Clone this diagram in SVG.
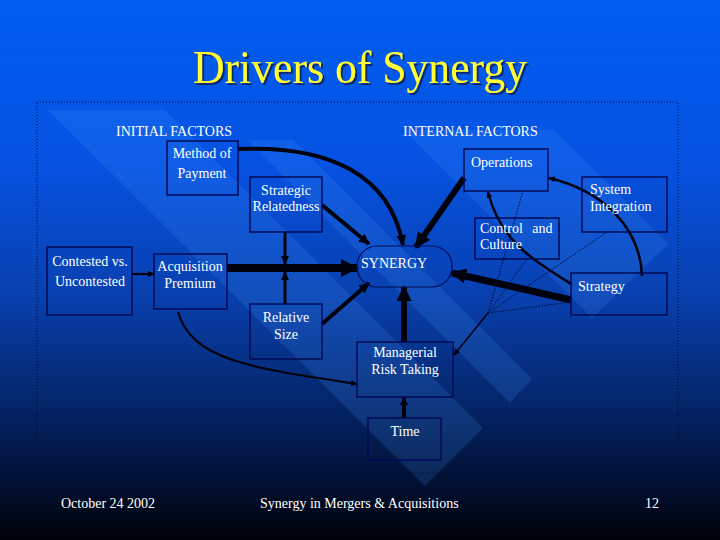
<svg xmlns="http://www.w3.org/2000/svg" width="720" height="540" viewBox="0 0 720 540">
<defs>
<linearGradient id="bg" x1="0" y1="0" x2="0" y2="1">
<stop offset="0" stop-color="#005ef2"/>
<stop offset="0.3" stop-color="#0652e2"/>
<stop offset="0.55" stop-color="#0940ae"/>
<stop offset="0.75" stop-color="#042568"/>
<stop offset="0.9" stop-color="#010f30"/>
<stop offset="1" stop-color="#000207"/>
</linearGradient>
<filter id="shadow" x="-10%" y="-20%" width="120%" height="150%">
<feDropShadow dx="2" dy="2" stdDeviation="0.6" flood-color="#102060" flood-opacity="0.9"/>
</filter>
<marker id="hXL" markerUnits="userSpaceOnUse" markerWidth="18" markerHeight="18" refX="16" refY="9" orient="auto" viewBox="0 0 18 18"><path d="M0,0 L18,9 L0,18 z" fill="#00020e"/></marker>
<marker id="hL" markerUnits="userSpaceOnUse" markerWidth="16" markerHeight="15" refX="14" refY="7.5" orient="auto" viewBox="0 0 16 15"><path d="M0,0 L16,7.5 L0,15 z" fill="#00020e"/></marker>
<marker id="hM" markerUnits="userSpaceOnUse" markerWidth="11" markerHeight="10" refX="10" refY="5" orient="auto" viewBox="0 0 11 10"><path d="M0,0 L11,5 L0,10 z" fill="#00020e"/></marker>
<marker id="hS" markerUnits="userSpaceOnUse" markerWidth="9" markerHeight="8" refX="8" refY="4" orient="auto" viewBox="0 0 9 8"><path d="M0,0 L9,4 L0,8 z" fill="#00020e"/></marker>
<marker id="hXS" markerUnits="userSpaceOnUse" markerWidth="7" markerHeight="6" refX="6" refY="3" orient="auto" viewBox="0 0 7 6"><path d="M0,0 L7,3 L0,6 z" fill="#00020e"/></marker>
</defs>
<style>
.box{fill:none;stroke:#000a55;stroke-width:1.5}
.t{font-family:"Liberation Serif","Times New Roman",serif;font-size:14px;fill:#ffffff}
.c{text-anchor:middle}
.ln{fill:none;stroke:#00020e;stroke-linecap:butt}
.dot{fill:none;stroke:#00062e;stroke-width:1;stroke-dasharray:1.5,1.5}
.band{fill:#4a9aff;opacity:0.17}
</style>
<rect width="720" height="540" fill="url(#bg)"/>
<g id="bands">
<polygon class="band" points="48,110 165,110 483,428 425,486"/>
<polygon class="band" points="247,140 293,140 532,379 510,403"/>
<polygon class="band" points="404,130 554,130 668,244 592,318"/>
</g>
<rect x="37" y="102" width="641" height="371" fill="none" stroke="#00082e" stroke-width="1" stroke-dasharray="1,2"/>
<text x="360" y="83" font-family="Liberation Serif,'Times New Roman',serif" font-size="46" fill="#ffff33" text-anchor="middle" textLength="334" lengthAdjust="spacingAndGlyphs" filter="url(#shadow)">Drivers of Synergy</text>
<text class="t" x="116" y="136">INITIAL FACTORS</text>
<text class="t" x="403" y="136">INTERNAL FACTORS</text>
<g id="connectors">
<path class="ln" d="M238,149 C330,145 390,175 403,245" stroke-width="4" marker-end="url(#hM)"/>
<path class="ln" d="M322,205 L369,244" stroke-width="4" marker-end="url(#hM)"/>
<path class="ln" d="M227,268 L357,268" stroke-width="8" marker-end="url(#hXL)"/>
<path class="ln" d="M285,232 L285,264" stroke-width="3" marker-end="url(#hS)"/>
<path class="ln" d="M285,304 L285,272" stroke-width="3" marker-end="url(#hS)"/>
<path class="ln" d="M322,324 L369,283" stroke-width="4" marker-end="url(#hM)"/>
<path class="ln" d="M464,178 L416,247" stroke-width="6" marker-end="url(#hL)"/>
<path class="ln" d="M571,300 L452,273" stroke-width="7" marker-end="url(#hL)"/>
<path class="ln" d="M404,342 L404,287" stroke-width="6" marker-end="url(#hL)"/>
<path class="ln" d="M404,418 L404,397" stroke-width="4" marker-end="url(#hS)"/>
<path class="ln" d="M178,312 C192,360 250,368 357,384" stroke-width="2.2" marker-end="url(#hXS)"/>
<path class="ln" d="M132,274 L154,274" stroke-width="2.2" marker-end="url(#hXS)"/>
<path class="ln" d="M571,284 C530,258 500,240 488,192" stroke-width="2.5" marker-end="url(#hXS)"/>
<path class="ln" d="M642,276 C640,225 600,190 549,178" stroke-width="2.5" marker-end="url(#hXS)"/>
<path class="dot" d="M488,313 L523,191"/>
<path class="dot" d="M488,313 L527,259"/>
<path class="dot" d="M488,313 L607,232"/>
<path class="dot" d="M488,313 L571,302"/>
<path class="ln" d="M488,313 L454,355" stroke-width="1.5" marker-end="url(#hXS)"/>
</g>
<g id="method"><rect class="box" x="167" y="141" width="71" height="54"/><text class="t c" x="202" y="158">Method of</text><text class="t c" x="202" y="178">Payment</text></g>
<g id="strategic"><rect class="box" x="250" y="177" width="72" height="55"/><text class="t c" x="286" y="195">Strategic</text><text class="t c" x="286" y="211">Relatedness</text></g>
<g id="contested"><rect class="box" x="47" y="247" width="85" height="68"/><text class="t c" x="90" y="266">Contested vs.</text><text class="t c" x="90" y="286">Uncontested</text></g>
<g id="acquisition"><rect class="box" x="154" y="254" width="73" height="55"/><text class="t c" x="190" y="271">Acquisition</text><text class="t c" x="190" y="288">Premium</text></g>
<g id="relative"><rect class="box" x="250" y="304" width="72" height="55"/><text class="t c" x="286" y="322">Relative</text><text class="t c" x="286" y="339">Size</text></g>
<g id="managerial"><rect class="box" x="357" y="342" width="96" height="55"/><text class="t c" x="405" y="357">Managerial</text><text class="t c" x="405" y="374">Risk Taking</text></g>
<g id="time"><rect class="box" x="368" y="418" width="73" height="42"/><text class="t c" x="405" y="436">Time</text></g>
<g id="operations"><rect class="box" x="464" y="149" width="84" height="42"/><text class="t" x="471" y="167">Operations</text></g>
<g id="system"><rect class="box" x="582" y="177" width="85" height="55"/><text class="t" x="590" y="194">System</text><text class="t" x="590" y="211">Integration</text></g>
<g id="control"><rect class="box" x="475" y="218" width="84" height="41"/><text class="t" x="480" y="233" word-spacing="6">Control and</text><text class="t" x="480" y="249">Culture</text></g>
<g id="synergy"><rect x="357" y="246" width="95" height="41" rx="20" ry="20" fill="none" stroke="#000a55" stroke-width="1.2"/><text class="t" x="361" y="268">SYNERGY</text></g>
<g id="strategy"><rect class="box" x="571" y="273" width="96" height="42"/><text class="t" x="578" y="291">Strategy</text></g>
<text class="t" x="61" y="508">October 24 2002</text>
<text class="t" x="260" y="508">Synergy in Mergers &amp; Acquisitions</text>
<text class="t" x="645" y="508">12</text>
</svg>
